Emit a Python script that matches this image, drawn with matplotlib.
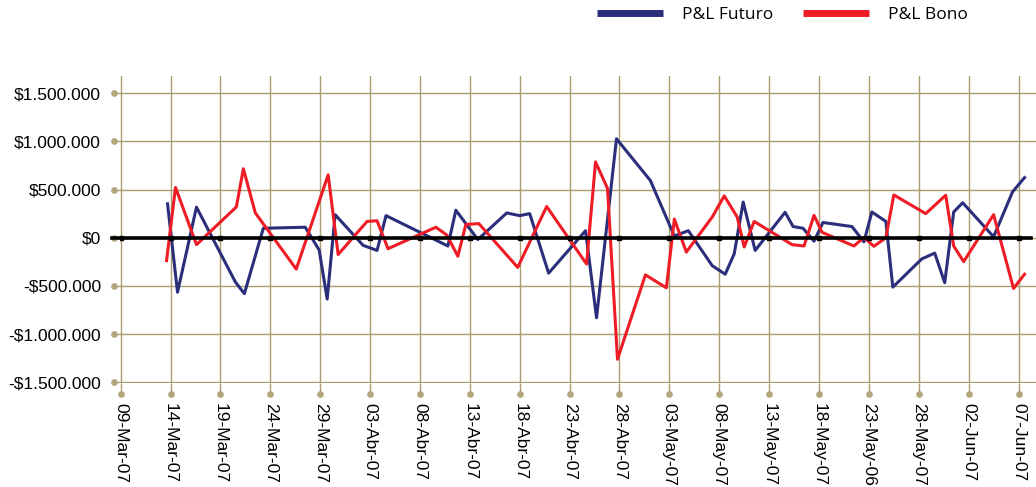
"""
P&L diario: Futuro vs Bono (09-Mar-07 a 07-Jun-07)
Recreacion del grafico de lineas con ejes en estilo Excel.
"""

import numpy as np
import pandas as pd
import matplotlib
matplotlib.use("Agg")
import matplotlib.pyplot as plt
from matplotlib.lines import Line2D
from matplotlib.transforms import offset_copy

plt.rcParams["font.family"] = ["Liberation Sans", "DejaVu Sans"]

INICIO = pd.Timestamp("2007-03-09")

# ─── Datos (dias desde 09-Mar-07, P&L en miles de $) ──────────────────────────
dias_futuro = [4.7, 5.7, 7.6, 11.5, 12.4, 14.3, 18.5, 19.9, 20.7, 21.5,
               24.3, 25.7, 26.6, 32.8, 33.6, 35.8, 38.7, 40.0, 41.0, 42.9,
               46.6, 47.7, 49.7, 53.1, 55.5, 56.9, 59.3, 60.6, 61.5, 62.4,
               63.6, 66.6, 67.4, 68.4, 69.5, 70.4, 73.3, 74.5, 75.3, 76.7,
               77.4, 80.3, 81.6, 82.6, 83.5, 84.4, 87.5, 89.4, 90.6]
pl_futuro = [353, -565, 318, -459, -580, 99, 110, -127, -636, 240,
             -78, -131, 230, -85, 286, -18, 258, 230, 251, -367,
             74, -830, 1028, 594, 18, 74, -290, -378, -166, 371,
             -131, 265, 117, 99, -35, 159, 117, -42, 268, 170,
             -512, -219, -159, -466, 268, 364, 11, 477, 625]

dias_bono = [4.6, 5.5, 7.6, 11.6, 12.3, 13.5, 17.6, 20.8, 21.8, 24.7,
             25.7, 26.8, 31.6, 32.7, 33.8, 34.6, 35.9, 39.8, 42.7, 46.7,
             47.6, 48.8, 49.8, 52.6, 54.7, 55.5, 56.7, 59.3, 60.5, 61.8,
             62.5, 63.5, 67.3, 68.5, 69.5, 70.3, 73.5, 74.5, 75.5, 76.7,
             77.5, 80.7, 82.7, 83.5, 84.5, 87.5, 89.5, 90.6]
pl_bono = [-237, 523, -71, 321, 717, 258, -325, 654, -173, 170,
           177, -113, 110, 28, -191, 138, 148, -307, 325, -272,
           788, 512, -1261, -385, -519, 194, -148, 216, 435, 216,
           -95, 170, -71, -85, 233, 57, -85, 4, -88, 0,
           445, 251, 442, -85, -247, 240, -526, -378]

etiquetas_x = ["09-Mar-07", "14-Mar-07", "19-Mar-07", "24-Mar-07", "29-Mar-07",
               "03-Abr-07", "08-Abr-07", "13-Abr-07", "18-Abr-07", "23-Abr-07",
               "28-Abr-07", "03-May-07", "08-May-07", "13-May-07", "18-May-07",
               "23-May-06", "28-May-07", "02-Jun-07", "07-Jun-07"]
valores_y = [-1500000, -1000000, -500000, 0, 500000, 1000000, 1500000]
etiquetas_y = ["-$1.500.000", "-$1.000.000", "-$500.000", "$0",
               "$500.000", "$1.000.000", "$1.500.000"]

AZUL = "#2B2F7B"
ROJO = "#EE1C25"
GRIS = "#AB9D72"
PUNTO = "#B3A57C"


def a_fechas(dias):
    return INICIO + pd.to_timedelta(np.array(dias), unit="D")


fechas_ticks = pd.date_range(INICIO, periods=len(etiquetas_x), freq="5D")

fig = plt.figure(figsize=(10.36, 4.87), dpi=100)
ax = fig.add_axes([0.1155, 0.213, 0.8845, 0.631])

ax.plot(a_fechas(dias_futuro), np.array(pl_futuro) * 1000, color=AZUL, lw=2.2, zorder=3)
ax.plot(a_fechas(dias_bono), np.array(pl_bono) * 1000, color=ROJO, lw=2.2, zorder=3)

ax.set_xlim(INICIO - pd.Timedelta(days=0.1), INICIO + pd.Timedelta(days=91.75))
ax.set_ylim(-1510000, 1680000)

ax.set_xticks(fechas_ticks)
ax.set_xticklabels(etiquetas_x)
ax.set_yticks(valores_y)
ax.set_yticklabels(etiquetas_y)
ax.grid(True, color=GRIS, lw=1, zorder=0)
for sp in ax.spines.values():
    sp.set_visible(False)

ax.tick_params(axis="x", length=7.9, width=1, color=GRIS, pad=6,
               labelsize=12.5, labelrotation=270)
ax.tick_params(axis="y", length=4, width=1, color=GRIS, pad=9.4, labelsize=12.5)

# puntos al final de las marcas de los ejes
n = len(fechas_ticks)
ax.plot(fechas_ticks, np.zeros(n), "o", ms=3.8, color=PUNTO, clip_on=False,
        transform=offset_copy(ax.get_xaxis_transform(), fig=fig, y=-11, units="dots"))
ax.plot(np.zeros(len(valores_y)), valores_y, "o", ms=3.8, color=PUNTO, clip_on=False,
        transform=offset_copy(ax.get_yaxis_transform(), fig=fig, x=-5.7, units="dots"))

# linea de cero con marcas
ax.axhline(0, xmin=-0.0084, xmax=0.9945, color="black", lw=2.6, clip_on=False, zorder=5)
ax.plot(fechas_ticks, np.zeros(n), "s", ms=3.2, color="black", zorder=5)

handles = [Line2D([], [], color=AZUL, lw=5, solid_capstyle="butt"),
           Line2D([], [], color=ROJO, lw=5, solid_capstyle="butt")]
fig.legend(handles, ["P&L Futuro", "P&L Bono"], loc="center",
           bbox_to_anchor=(0.755, 0.969), ncol=2, frameon=False,
           prop={"family": "Open Sans", "size": 12.5},
           handlelength=3.8, handletextpad=1.1, columnspacing=1.7)

fig.savefig("out.png", dpi=100)
plt.close(fig)
